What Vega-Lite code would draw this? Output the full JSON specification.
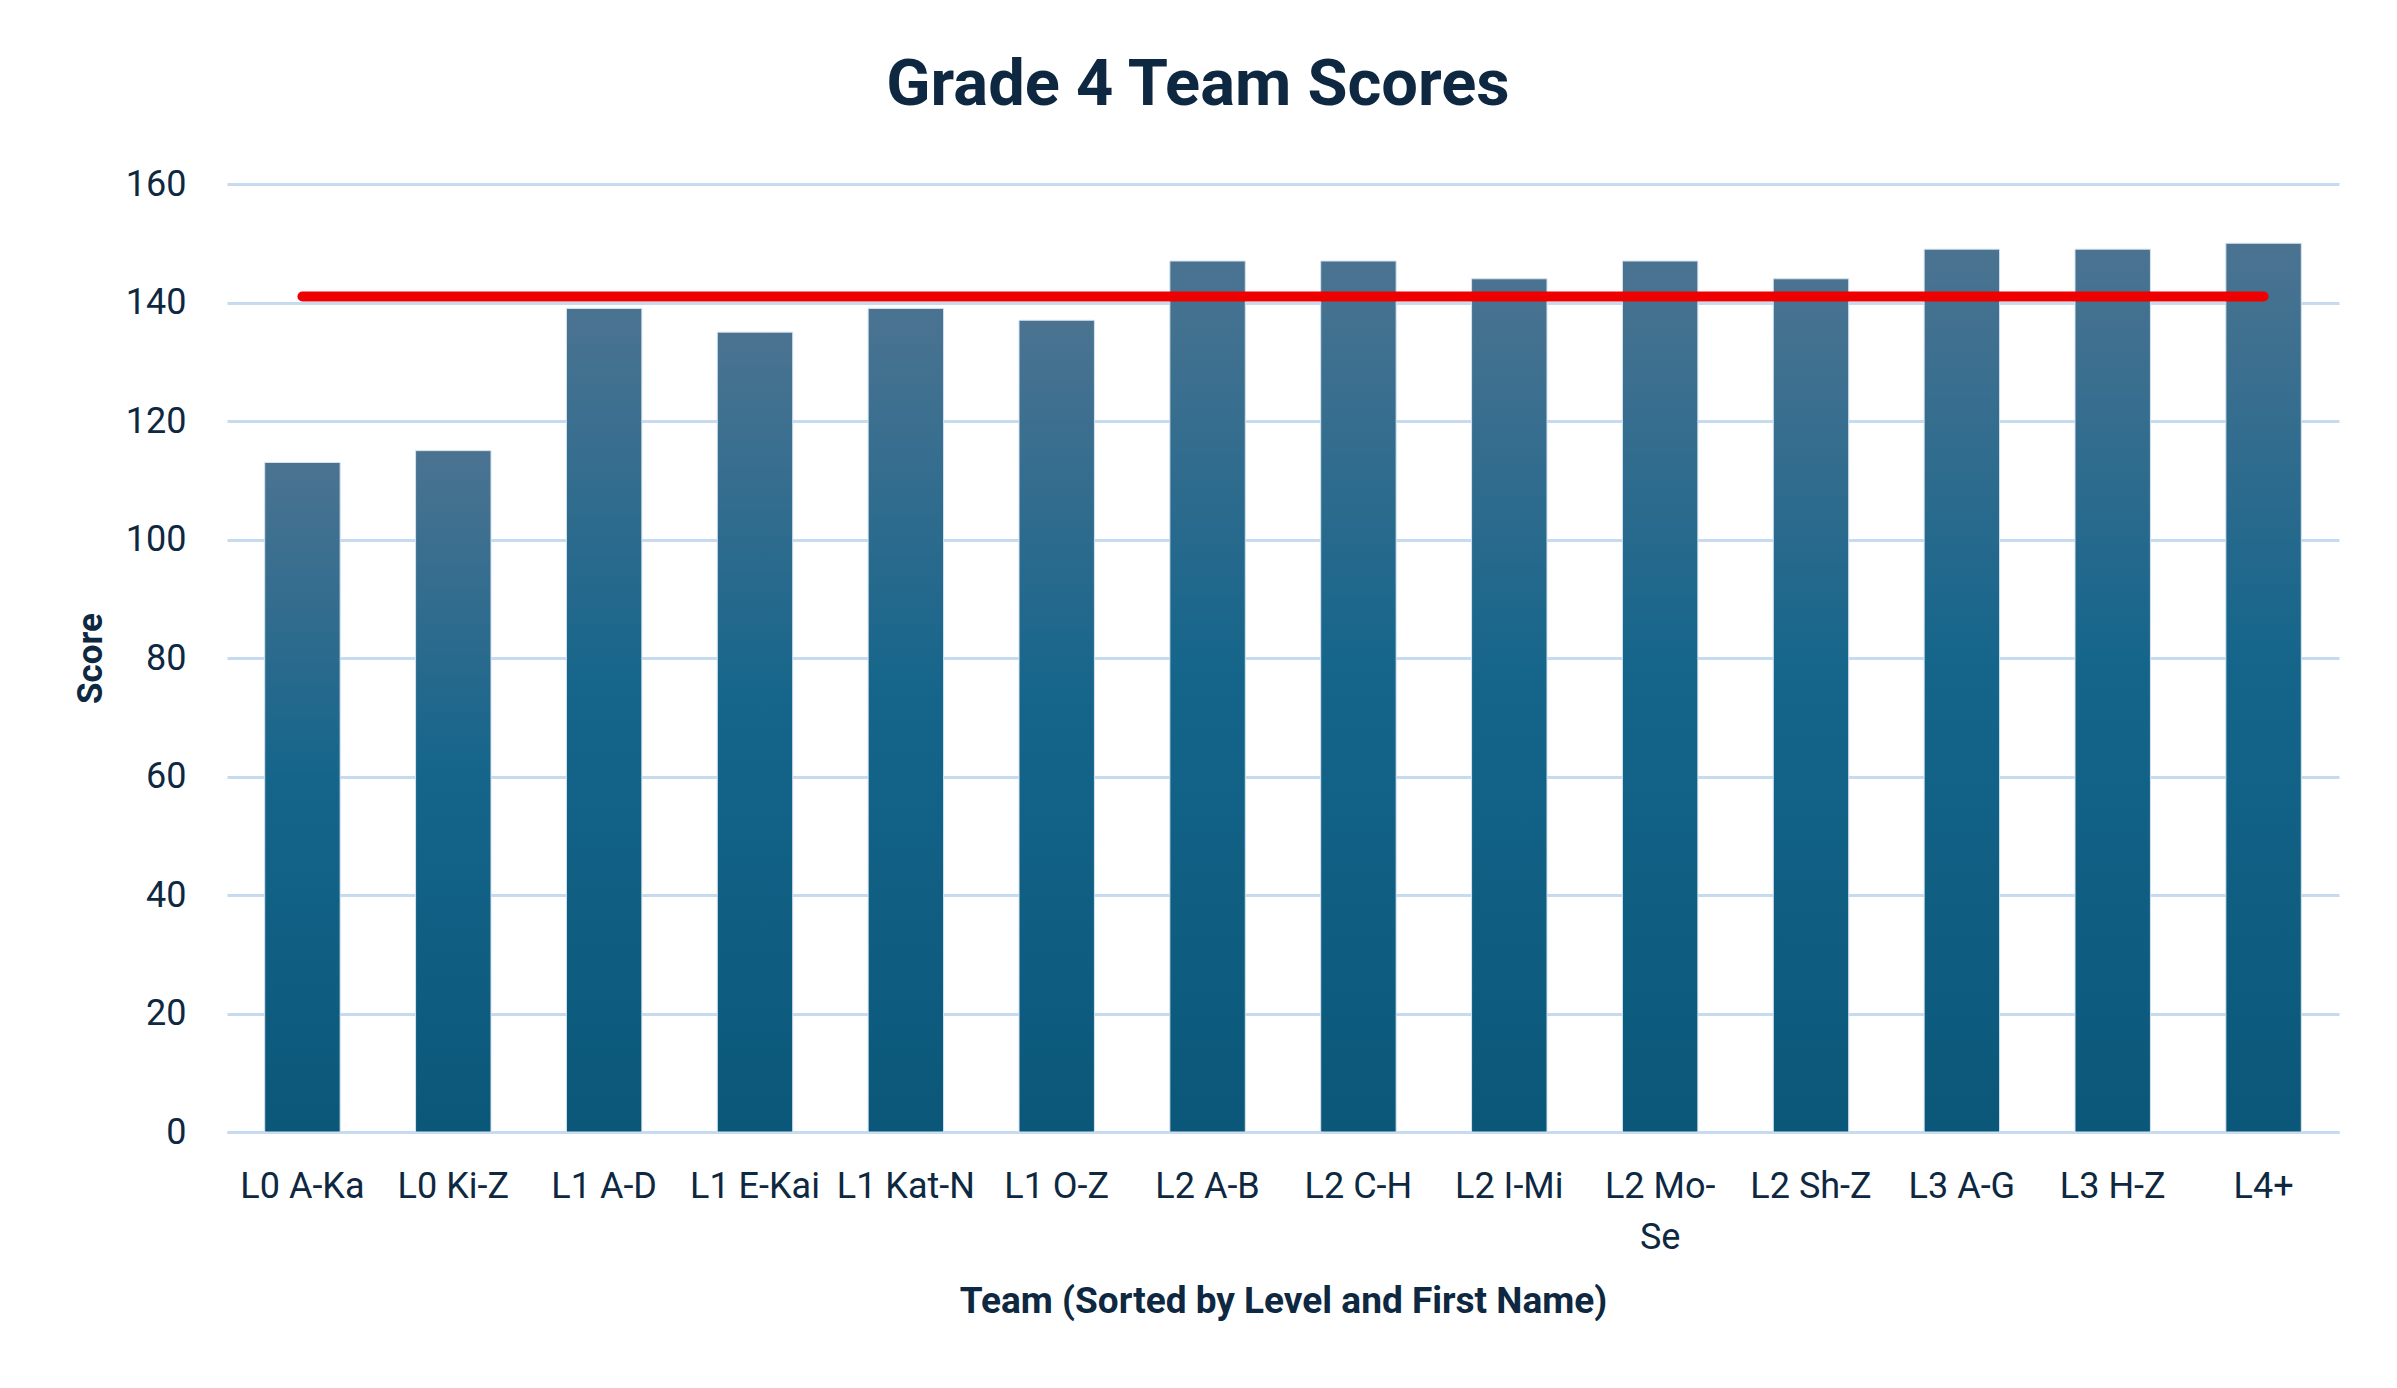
{
  "$schema": "https://vega.github.io/schema/vega-lite/v6.json",
  "width": 2112,
  "height": 948,
  "autosize": {"type": "none"},
  "padding": {"left": 227, "top": 184, "right": 58, "bottom": 256},
  "background": "white",
  "title": {
    "text": "Grade 4 Team Scores",
    "font": "Roboto",
    "fontSize": 65,
    "fontWeight": "bold",
    "color": "#0E2841",
    "anchor": "middle",
    "frame": "group",
    "baseline": "alphabetic",
    "dx": -85,
    "dy": 64,
    "offset": 60
  },
  "data": {
    "values": [
      {"team": "L0 A-Ka", "score": 113, "target": 141},
      {"team": "L0 Ki-Z", "score": 115, "target": 141},
      {"team": "L1 A-D", "score": 139, "target": 141},
      {"team": "L1 E-Kai", "score": 135, "target": 141},
      {"team": "L1 Kat-N", "score": 139, "target": 141},
      {"team": "L1 O-Z", "score": 137, "target": 141},
      {"team": "L2 A-B", "score": 147, "target": 141},
      {"team": "L2 C-H", "score": 147, "target": 141},
      {"team": "L2 I-Mi", "score": 144, "target": 141},
      {"team": "L2 Mo-Se", "score": 147, "target": 141},
      {"team": "L2 Sh-Z", "score": 144, "target": 141},
      {"team": "L3 A-G", "score": 149, "target": 141},
      {"team": "L3 H-Z", "score": 149, "target": 141},
      {"team": "L4+", "score": 150, "target": 141}
    ]
  },
  "encoding": {
    "x": {
      "field": "team",
      "type": "nominal",
      "sort": null,
      "scale": {"paddingInner": 0.5, "paddingOuter": 0.25},
      "axis": {
        "title": "Team (Sorted by Level and First Name)",
        "labelAngle": 0,
        "labelOverlap": false,
        "labelLimit": 0,
        "labelBaseline": "alphabetic",
        "labelPadding": 65,
        "labelLineHeight": 51,
        "labelExpr": "datum.value == 'L2 Mo-Se' ? ['L2 Mo-', 'Se'] : datum.value",
        "ticks": false,
        "domainColor": "#C6DBEF",
        "domainWidth": 3,
        "titleFontSize": 37,
        "titleBaseline": "alphabetic",
        "titleY": 180
      }
    }
  },
  "layer": [
    {
      "mark": {
        "type": "bar",
        "color": {
          "gradient": "linear",
          "x1": 0, "y1": 0, "x2": 0, "y2": 1,
          "stops": [
            {"offset": 0, "color": "#4B7391"},
            {"offset": 0.47, "color": "#15658B"},
            {"offset": 1, "color": "#0A5779"}
          ]
        },
        "stroke": "#D3E2F0",
        "strokeWidth": 1
      },
      "encoding": {
        "y": {
          "field": "score",
          "type": "quantitative",
          "scale": {"domain": [0, 160], "nice": false},
          "axis": {
            "title": "Score",
            "values": [0, 20, 40, 60, 80, 100, 120, 140, 160],
            "ticks": false,
            "domain": false,
            "labelPadding": 41,
            "gridColor": "#C6DBEF",
            "gridWidth": 3,
            "titleAngle": -90,
            "titleAlign": "center",
            "titleBaseline": "alphabetic",
            "titleX": -126,
            "titleY": 474
          }
        }
      }
    },
    {
      "mark": {
        "type": "line",
        "color": "#EE0000",
        "strokeWidth": 10,
        "strokeCap": "round"
      },
      "encoding": {
        "y": {"field": "target", "type": "quantitative"}
      }
    }
  ],
  "config": {
    "font": "Roboto",
    "view": {"stroke": null},
    "axis": {
      "labelFont": "Roboto",
      "labelFontSize": 36,
      "labelColor": "#0E2841",
      "titleFont": "Roboto",
      "titleFontSize": 35,
      "titleFontWeight": "bold",
      "titleColor": "#0E2841"
    }
  }
}
